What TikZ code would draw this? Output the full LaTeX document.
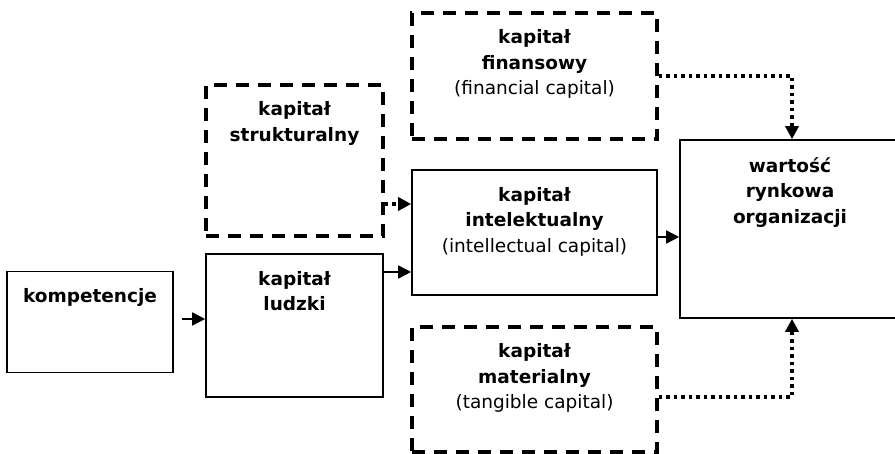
\documentclass[tikz,border=0pt]{standalone}
\usepackage{fontspec}
\setmainfont{DejaVu Sans}
\usetikzlibrary{arrows.meta,positioning}
\tikzset{%
	solidbox/.style = {draw, rectangle, line width=1.6pt, inner sep=0pt},
	dashbox/.style  = {draw, rectangle, line width=3.3pt, dash pattern=on 13pt off 9pt, inner sep=0pt},
	boxtext/.style  = {align=center, inner sep=0pt, font=\fontsize{18.5}{25.5}\selectfont\bfseries},
	arrow/.style    = {line width=1.6pt, -{Triangle[length=13pt,width=13pt]}},
	dotarrow/.style = {arrow, line width=3.3pt, dash pattern=on 3.5pt off 4pt},
}

\begin{document}
\begin{tikzpicture}[x=1pt,y=1pt]
	\useasboundingbox (0,0) rectangle (895,454);
	% boxes
	\node (komp)   [solidbox, minimum width=166pt, minimum height=101pt] at (90,132) {};
	\node (ludzki) [solidbox, minimum width=177pt, minimum height=143pt] at (294.5,128.5) {};
	\node (strukt) [dashbox,  minimum width=177pt, minimum height=151pt] at (294.5,293.5) {};
	\node (fin)    [dashbox,  minimum width=245pt, minimum height=126pt] at (534.5,378) {};
	\node (intel)  [solidbox, minimum width=245pt, minimum height=125pt] at (534.5,221.5) {};
	\node (mater)  [dashbox,  minimum width=245pt, minimum height=125pt] at (534.5,64.5) {};
	\node (wart)   [solidbox, minimum width=220pt, minimum height=178pt] at (790,225) {};
	% texts
	\node (kompT)   [boxtext, below=18pt of komp.north]   {kompetencje};
	\node (ludzkiT) [boxtext, below=18pt of ludzki.north] {kapitał\\ludzki};
	\node (struktT) [boxtext, below=18pt of strukt.north] {kapitał\\strukturalny};
	\node (finT)    [boxtext, below=18pt of fin.north]    {kapitał\\finansowy\\\mdseries(financial capital)};
	\node (intelT)  [boxtext, below=18pt of intel.north]  {kapitał\\intelektualny\\\mdseries(intellectual capital)};
	\node (materT)  [boxtext, below=18pt of mater.north]  {kapitał\\materialny\\\mdseries(tangible capital)};
	\node (wartT)   [boxtext, below=18pt of wart.north]   {wartość\\rynkowa\\organizacji};
	% connectors
	\coordinate (kL) at ([yshift=3pt]komp.east);
	\draw[arrow, shorten <=8pt] (kL) -- (kL -| ludzki.west);
	\coordinate (iL) at ([yshift=-39.5pt]intel.west);
	\draw[arrow] (iL -| ludzki.east) -- (iL);
	\coordinate (iS) at ([yshift=28.5pt]intel.west);
	\draw[dotarrow] (iS -| strukt.east) -- (iS);
	\coordinate (iW) at ([yshift=-4.5pt]intel.east);
	\draw[arrow] (iW) -- (iW -| wart.west);
	\draw[dotarrow] (fin.east) -| ([xshift=2pt]wart.north);
	\coordinate (mW) at ([yshift=-7.5pt]mater.east);
	\draw[dotarrow] (mW) -| ([xshift=2pt]wart.south);
\end{tikzpicture}
\end{document}
